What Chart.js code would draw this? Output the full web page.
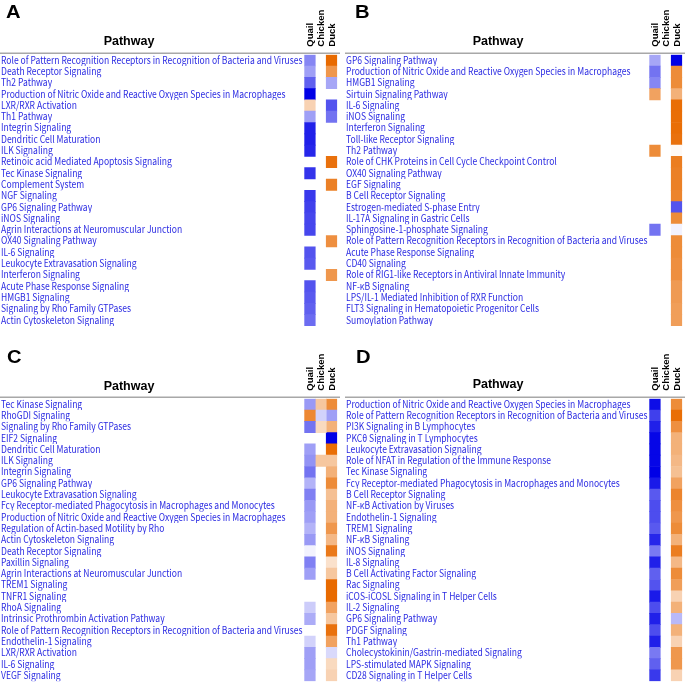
<!DOCTYPE html>
<html>
<head>
<meta charset="utf-8">
<script src="https://cdn.jsdelivr.net/npm/chart.js@4.4.1/dist/chart.umd.min.js"></script>
<style>
  html, body { margin: 0; padding: 0; background: #fff; }
  body { position: relative; width: 685px; height: 684px; overflow: hidden; }
  canvas.panel { position: absolute; }
</style>
</head>
<body>
<canvas id="chartA" class="panel" width="340" height="340" style="left:0;top:0"></canvas>
<canvas id="chartB" class="panel" width="340" height="340" style="left:345px;top:0"></canvas>
<canvas id="chartC" class="panel" width="340" height="340" style="left:0;top:344px"></canvas>
<canvas id="chartD" class="panel" width="340" height="340" style="left:345px;top:344px"></canvas>
<script>
// columns of every heatmap
const species = ['Quail', 'Chicken', 'Duck'];

// ---- panel A ----
const pathwaysA = [
  'Role of Pattern Recognition Receptors in Recognition of Bacteria and Viruses',
  'Death Receptor Signaling',
  'Th2 Pathway',
  'Production of Nitric Oxide and Reactive Oxygen Species in Macrophages',
  'LXR/RXR Activation',
  'Th1 Pathway',
  'Integrin Signaling',
  'Dendritic Cell Maturation',
  'ILK Signaling',
  'Retinoic acid Mediated Apoptosis Signaling',
  'Tec Kinase Signaling',
  'Complement System',
  'NGF Signaling',
  'GP6 Signaling Pathway',
  'iNOS Signaling',
  'Agrin Interactions at Neuromuscular Junction',
  'OX40 Signaling Pathway',
  'IL-6 Signaling',
  'Leukocyte Extravasation Signaling',
  'Interferon Signaling',
  'Acute Phase Response Signaling',
  'HMGB1 Signaling',
  'Signaling by Rho Family GTPases',
  'Actin Cytoskeleton Signaling'
];
const quailA = [-1.9, -1.5, -2.5, -4.0, 1.2, -1.5, -3.5, -3.5, -3.4, null, -3.2, null,
                -3.1, -3.0, -2.9, -2.9, null, -2.7, -2.6, null, -2.7, -2.6, -2.5, -2.3];
const chickenA = [null, null, null, null, null, null, null, null, null, null, null, null,
                  null, null, null, null, null, null, null, null, null, null, null, null];
const duckA = [4.0, 2.8, -1.4, null, -2.7, -2.2, null, null, null, 3.8, null, 3.4,
               null, null, null, null, 3.0, null, null, 2.8, null, null, null, null];

// ---- panel B ----
const pathwaysB = [
  'GP6 Signaling Pathway',
  'Production of Nitric Oxide and Reactive Oxygen Species in Macrophages',
  'HMGB1 Signaling',
  'Sirtuin Signaling Pathway',
  'IL-6 Signaling',
  'iNOS Signaling',
  'Interferon Signaling',
  'Toll-like Receptor Signaling',
  'Th2 Pathway',
  'Role of CHK Proteins in Cell Cycle Checkpoint Control',
  'OX40 Signaling Pathway',
  'EGF Signaling',
  'B Cell Receptor Signaling',
  'Estrogen-mediated S-phase Entry',
  'IL-17A Signaling in Gastric Cells',
  'Sphingosine-1-phosphate Signaling',
  'Role of Pattern Recognition Receptors in Recognition of Bacteria and Viruses',
  'Acute Phase Response Signaling',
  'CD40 Signaling',
  'Role of RIG1-like Receptors in Antiviral Innate Immunity',
  'NF-κB Signaling',
  'LPS/IL-1 Mediated Inhibition of RXR Function',
  'FLT3 Signaling in Hematopoietic Progenitor Cells',
  'Sumoylation Pathway'
];
const quailB = [-1.4, -2.2, -1.9, 2.5, null, null, null, null, 3.1, null, null, null,
                null, null, null, -2.2, null, null, null, null, null, null, null, null];
const chickenB = [null, null, null, null, null, null, null, null, null, null, null, null,
                  null, null, null, null, null, null, null, null, null, null, null, null];
const duckB = [-4.0, 3.1, 3.1, 2.1, 3.9, 3.9, 3.9, 3.8, 0.15, 3.5, 3.4, 3.4,
               3.3, -2.7, 3.1, -0.2, 3.1, 3.1, 3.0, 3.0, 2.7, 2.7, 2.6, 2.6];

// ---- panel C ----
const pathwaysC = [
  'Tec Kinase Signaling',
  'RhoGDI Signaling',
  'Signaling by Rho Family GTPases',
  'EIF2 Signaling',
  'Dendritic Cell Maturation',
  'ILK Signaling',
  'Integrin Signaling',
  'GP6 Signaling Pathway',
  'Leukocyte Extravasation Signaling',
  'Fcγ Receptor-mediated Phagocytosis in Macrophages and Monocytes',
  'Production of Nitric Oxide and Reactive Oxygen Species in Macrophages',
  'Regulation of Actin-based Motility by Rho',
  'Actin Cytoskeleton Signaling',
  'Death Receptor Signaling',
  'Paxillin Signaling',
  'Agrin Interactions at Neuromuscular Junction',
  'TREM1 Signaling',
  'TNFR1 Signaling',
  'RhoA Signaling',
  'Intrinsic Prothrombin Activation Pathway',
  'Role of Pattern Recognition Receptors in Recognition of Bacteria and Viruses',
  'Endothelin-1 Signaling',
  'LXR/RXR Activation',
  'IL-6 Signaling',
  'VEGF Signaling'
];
const quailC = [-1.6, 3.2, -2.2, null, -1.5, -1.7, -2.2, -1.2, -2.0, -1.6, -1.5, -1.2, -1.6,
                -0.2, -2.0, -1.5, null, null, -0.8, -1.3, null, -0.7, -1.5, -1.5, -1.4];
const chickenC = [1.5, -0.7, 1.0, null, null, 1.5, null, null, null, null, null, null, null,
                  null, null, null, null, null, null, null, null, null, null, null, null];
const duckC = [3.1, -1.5, 2.1, -4.0, 3.9, 1.5, 2.1, 3.1, 1.7, 2.1, 2.1, 2.8, 1.9,
               3.6, 0.8, 1.5, 4.0, 4.0, 2.5, 1.5, 3.8, 2.5, -0.6, 1.0, 1.2];

// ---- panel D ----
const pathwaysD = [
  'Production of Nitric Oxide and Reactive Oxygen Species in Macrophages',
  'Role of Pattern Recognition Receptors in Recognition of Bacteria and Viruses',
  'PI3K Signaling in B Lymphocytes',
  'PKCθ Signaling in T Lymphocytes',
  'Leukocyte Extravasation Signaling',
  'Role of NFAT in Regulation of the Immune Response',
  'Tec Kinase Signaling',
  'Fcγ Receptor-mediated Phagocytosis in Macrophages and Monocytes',
  'B Cell Receptor Signaling',
  'NF-κB Activation by Viruses',
  'Endothelin-1 Signaling',
  'TREM1 Signaling',
  'NF-κB Signaling',
  'iNOS Signaling',
  'IL-8 Signaling',
  'B Cell Activating Factor Signaling',
  'Rac Signaling',
  'iCOS-iCOSL Signaling in T Helper Cells',
  'IL-2 Signaling',
  'GP6 Signaling Pathway',
  'PDGF Signaling',
  'Th1 Pathway',
  'Cholecystokinin/Gastrin-mediated Signaling',
  'LPS-stimulated MAPK Signaling',
  'CD28 Signaling in T Helper Cells'
];
const quailD = [-3.8, -3.0, -3.5, -3.9, -3.9, -3.9, -4.0, -3.6, -2.6, -2.8, -2.8, -2.6, -3.4,
                -2.1, -3.5, -2.5, -2.7, -3.6, -2.8, -3.5, -2.8, -3.5, -2.1, -2.5, -3.1];
const chickenD = [null, null, null, null, null, null, null, null, null, null, null, null, null,
                  null, null, null, null, null, null, null, null, null, null, null, null];
const duckD = [3.1, 3.9, 3.0, 2.1, 2.1, 1.9, 1.7, 2.5, 3.3, 3.0, 2.8, 3.1, 2.1,
               3.5, 1.9, 3.1, 2.6, 1.2, 2.1, -1.1, 2.1, 1.2, 2.8, 2.8, 1.2];

// layout of each panel canvas (px)
const TOP = 54.7;      // top of first row
const ROW_H = 11.3;
const LABEL_W = 304.3; // width of the pathway text column
const CANVAS_H = 340;
const TEXT_SQUEEZE = 0.855; // original labels use a narrow face

// z-score -> colour, orange for up, blue for down
function zColor(v) {
  if (v == null) return 'rgba(0,0,0,0)';
  const t = Math.min(Math.abs(v) / 4, 1);
  const to = v > 0 ? [232, 106, 0] : [0, 0, 230];
  const c = to.map(k => Math.round(255 + (k - 255) * t));
  return 'rgb(' + c.join(',') + ')';
}

const panelDecor = {
  id: 'panelDecor',
  afterDraw(chart, args, opts) {
    const { ctx, chartArea } = chart;
    const yScale = chart.scales.y;
    const labels = chart.data.labels;
    const half = (chartArea.bottom - chartArea.top) / labels.length / 2;

    // pathway names, clipped to their row like the original
    ctx.save();
    ctx.font = '10px "Noto Sans CJK KR"';
    ctx.fillStyle = '#2a2ae2';
    ctx.textBaseline = 'alphabetic';
    ctx.textAlign = 'left';
    labels.forEach((lab, i) => {
      const c = yScale.getPixelForValue(i);
      ctx.save();
      ctx.beginPath();
      ctx.rect(0, c - half, chartArea.left, half * 2);
      ctx.clip();
      ctx.translate(1, c + half - 2.4);
      ctx.scale(TEXT_SQUEEZE, 1);
      ctx.fillText(lab, 0, 0);
      ctx.restore();
    });
    ctx.restore();

    // header rule
    ctx.save();
    ctx.strokeStyle = '#a8a8a8';
    ctx.lineWidth = 1.5;
    ctx.beginPath();
    ctx.moveTo(0, chartArea.top - 1.4);
    ctx.lineTo(chart.width, chartArea.top - 1.4);
    ctx.stroke();

    // panel letter
    ctx.fillStyle = '#000';
    ctx.textBaseline = 'alphabetic';
    ctx.textAlign = 'left';
    ctx.save();
    ctx.translate(opts.letterX, opts.letterY);
    ctx.scale(1.12, 1);
    ctx.font = 'bold 18px "Liberation Sans"';
    ctx.fillText(opts.letter, 0, 0);
    ctx.restore();

    // column title
    ctx.font = 'bold 12.5px "Liberation Sans"';
    ctx.textAlign = 'center';
    ctx.fillText('Pathway', opts.headX, opts.headY);
    ctx.restore();
  }
};

function makePanel(id, pathways, series, decor) {
  const datasets = species.map((s, k) => ({
    label: s,
    data: series[k].map(v => v == null ? null : [k, k + 1]),
    backgroundColor: series[k].map(zColor),
    borderWidth: 0,
    barPercentage: 1,
    categoryPercentage: 1,
    grouped: false
  }));
  const bottomPad = CANVAS_H - (TOP + pathways.length * ROW_H);

  new Chart(document.getElementById(id), {
    type: 'bar',
    data: { labels: pathways, datasets },
    options: {
      indexAxis: 'y',
      responsive: false,
      animation: false,
      events: [],
      layout: { padding: { top: 0, right: 1.7, bottom: bottomPad, left: 0 } },
      plugins: {
        legend: { display: false },
        tooltip: { enabled: false },
        panelDecor: decor
      },
      scales: {
        x: { type: 'linear', min: 0, max: 3, display: false },
        sp: {
          type: 'category',
          labels: species,
          position: 'top',
          offset: true,
          grid: { display: false, drawTicks: false },
          border: { display: false },
          ticks: {
            autoSkip: false,
            minRotation: 90,
            maxRotation: 90,
            padding: 8,
            labelOffset: 11.6,
            color: '#000',
            font: { family: 'Liberation Sans', size: 9.5, weight: 'bold' }
          },
          afterFit: s => { s.height = TOP; }
        },
        y: {
          type: 'category',
          grid: { display: false },
          border: { display: false },
          ticks: { display: false },
          afterFit: s => { s.width = LABEL_W; }
        }
      }
    },
    plugins: [panelDecor]
  });
}

makePanel('chartA', pathwaysA, [quailA, chickenA, duckA],
  { letter: 'A', letterX: 6, letterY: 17.5, headX: 129, headY: 45 });
makePanel('chartB', pathwaysB, [quailB, chickenB, duckB],
  { letter: 'B', letterX: 10, letterY: 17.5, headX: 153, headY: 45 });
makePanel('chartC', pathwaysC, [quailC, chickenC, duckC],
  { letter: 'C', letterX: 7, letterY: 18.7, headX: 129, headY: 45.5 });
makePanel('chartD', pathwaysD, [quailD, chickenD, duckD],
  { letter: 'D', letterX: 11, letterY: 18.7, headX: 153, headY: 43.5 });
</script>
</body>
</html>
